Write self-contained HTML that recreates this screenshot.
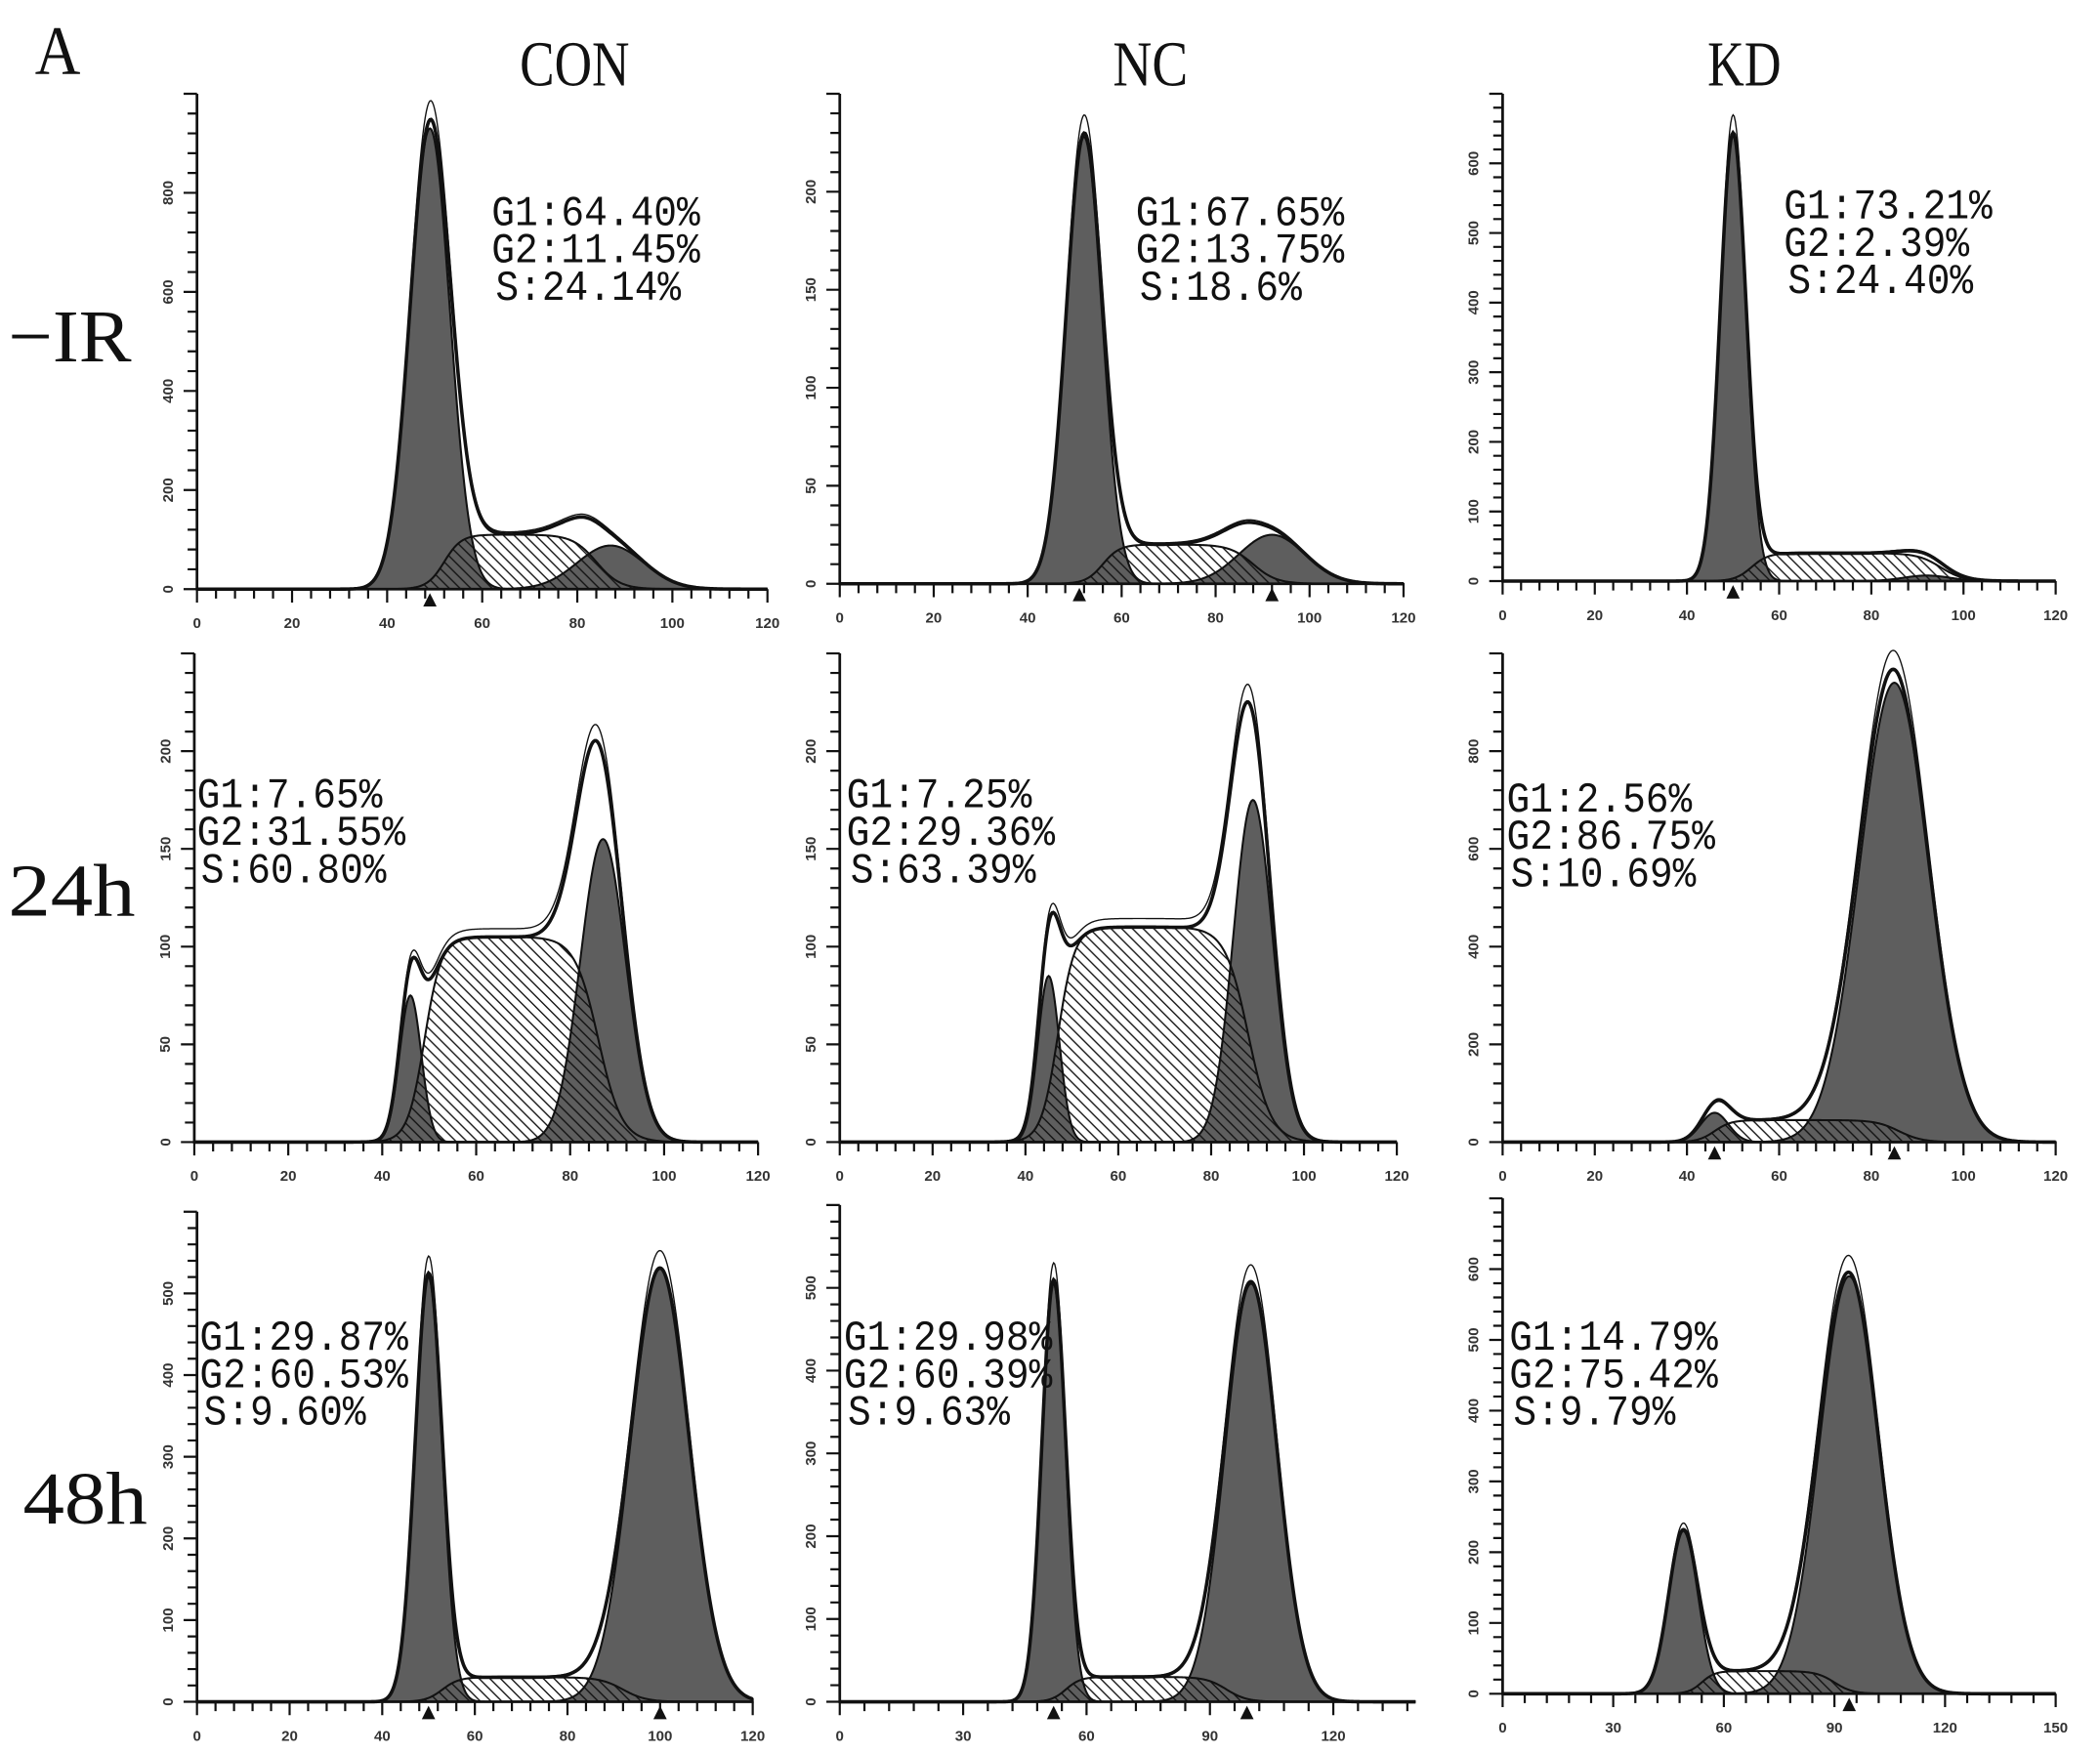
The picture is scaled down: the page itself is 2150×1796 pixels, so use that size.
<!DOCTYPE html>
<html><head><meta charset="utf-8">
<style>
html,body{margin:0;padding:0;background:#fff;}
svg{display:block;}
.big{font-family:"Liberation Serif","Noto Serif CJK SC",serif;fill:#111;}
.tick{font-family:"Liberation Sans",sans-serif;font-size:11px;fill:#333;font-weight:bold;}
.stat{font-family:"Liberation Mono","Noto Sans CJK SC",monospace;font-size:32px;fill:#111;}
</style></head>
<body>
<svg id="fig" width="2150" height="1796" viewBox="0 0 1568 1310" xmlns="http://www.w3.org/2000/svg">
<defs>
<pattern id="hatch" patternUnits="userSpaceOnUse" width="8" height="8">
<path d="M-2,-2 L10,10 M-2,6 L2,10 M6,-2 L10,2" stroke="#111" stroke-width="1"/>
</pattern>
</defs>
<text class="big" x="26" y="55" font-size="52" textLength="34" lengthAdjust="spacingAndGlyphs">A</text>
<text class="big" x="388" y="64" font-size="48" textLength="82" lengthAdjust="spacingAndGlyphs">CON</text>
<text class="big" x="831" y="64" font-size="48" textLength="56" lengthAdjust="spacingAndGlyphs">NC</text>
<text class="big" x="1275" y="64" font-size="48" textLength="55" lengthAdjust="spacingAndGlyphs">KD</text>
<text class="big" x="6" y="270" font-size="56" textLength="92" lengthAdjust="spacingAndGlyphs">−IR</text>
<text class="big" x="6" y="684" font-size="56" textLength="95" lengthAdjust="spacingAndGlyphs">24h</text>
<text class="big" x="17" y="1138" font-size="56" textLength="93" lengthAdjust="spacingAndGlyphs">48h</text>
</svg>
<script>
// ---- data ----
const panelNames = ['con-ir','nc-ir','kd-ir','con-24h','nc-24h','kd-24h','con-48h','nc-48h','kd-48h'];
const g1Center = [49,52,50, 46,45,46, 50,52,49];
const g1Peak   = [930,228,640, 75,85,60, 520,505,230];
const g1Sd     = [4.2,3.8,2.8, 2.3,2.3,3, 2.9,2.9,4];
const g2Center = [87,92,92, 87,89,85, 100,100,94];
const g2Peak   = [88,25,8, 155,175,940, 530,505,590];
const g2Sd     = [7,7,5, 4.8,4.2,7.5, 6.3,6.3,8];
const sLevel   = [110,20,40, 105,110,45, 30,30,32];
const sStart   = [52,56,54, 49,47,46, 53,55,54];
const sEnd     = [84,88,95, 86,88,86, 92,94,90];
const xMaxes   = [120,120,120, 120,120,120, 120,140,150];
const xSteps   = [20,20,20, 20,20,20, 20,30,30];
const yMaxes   = [1000,250,700, 250,250,1000, 600,600,700];
const ySteps   = [200,50,100, 50,50,200, 100,100,100];
const statG1   = ['G1:64.40%','G1:67.65%','G1:73.21%','G1:7.65%','G1:7.25%','G1:2.56%','G1:29.87%','G1:29.98%','G1:14.79%'];
const statG2   = ['G2:11.45%','G2:13.75%','G2:2.39%','G2:31.55%','G2:29.36%','G2:86.75%','G2:60.53%','G2:60.39%','G2:75.42%'];
const statS    = ['S:24.14%','S:18.6%','S:24.40%','S:60.80%','S:63.39%','S:10.69%','S:9.60%','S:9.63%','S:9.79%'];
const markers  = [[49],[51,92],[50],[],[],[46,85],[50,100],[52,99],[94]];

// ---- layout (pixels, not data) ----
const axLeft  = [147,627,1122, 145,627,1122, 147,627,1122];
const axRight = [573,1048,1535, 566,1043,1535, 562,1057,1535];
const axBase  = [440,436,434, 853,853,853, 1271,1271,1265];
const axTop   = [70,70,70, 488,488,488, 905,900,895];
const statX   = [367,848,1332, 147,632,1125, 149,630,1127];
const statY   = [168,168,163, 603,603,606, 1008,1008,1008];

const NS='http://www.w3.org/2000/svg';
const svg=document.getElementById('fig');
function mk(tag,attrs,parent){const e=document.createElementNS(NS,tag);for(const k in attrs)e.setAttribute(k,attrs[k]);(parent||svg).appendChild(e);return e;}
function sig(z){return 1/(1+Math.exp(-z));}

for(let i=0;i<9;i++){
  const g=mk('g',{});
  
  
  const X=v=>axLeft[i]+(axRight[i]-axLeft[i])*v/xMaxes[i];
  const Y=v=>axBase[i]-(axBase[i]-axTop[i])*v/yMaxes[i];
  const g1=x=>g1Peak[i]*Math.exp(-Math.pow(x-g1Center[i],2)/(2*g1Sd[i]*g1Sd[i]));
  const g2=x=>g2Peak[i]*Math.exp(-Math.pow(x-g2Center[i],2)/(2*g2Sd[i]*g2Sd[i]));
  const s=x=>sLevel[i]*sig((x-sStart[i])/1.8)*sig((sEnd[i]-x)/2.5);
  const xs=[];for(let x=0;x<=xMaxes[i];x+=0.25)xs.push(x);
  const areaPath=f=>{let d='M'+X(0)+','+Y(0);xs.forEach(x=>{d+=' L'+X(x).toFixed(2)+','+Y(f(x)).toFixed(2);});return d+' L'+X(xMaxes[i])+','+Y(0)+'Z';};
  const linePath=f=>{let d='';xs.forEach((x,k)=>{d+=(k?' L':'M')+X(x).toFixed(2)+','+Y(f(x)).toFixed(2);});return d;};
  const p1=mk('path',{d:areaPath(g1),fill:'#5e5e5e',stroke:'#111','stroke-width':1.5},g);
  
  
  const p2=mk('path',{d:areaPath(g2),fill:'#5e5e5e',stroke:'#111','stroke-width':1.5},g);
  
  
  const ps=mk('path',{d:areaPath(s),fill:'url(#hatch)',stroke:'#111','stroke-width':1.5},g);
  
  
  const tot=x=>g1(x)+g2(x)+s(x);
  const pt=mk('path',{d:linePath(x=>tot(x)*1.04),fill:'none',stroke:'#111','stroke-width':1},g);
  
  
  const pe=mk('path',{d:linePath(tot),fill:'none',stroke:'#111','stroke-width':2.6},g);
  
  
  const ax=mk('path',{d:'M'+axLeft[i]+','+axTop[i]+' L'+axLeft[i]+','+axBase[i]+' L'+axRight[i]+','+axBase[i],fill:'none',stroke:'#111','stroke-width':2},g);
  
  
  let td='';
  const xm=xSteps[i]/5;
  for(let v=0;v<=xMaxes[i]+0.01;v+=xm){const big=Math.abs(v/xSteps[i]-Math.round(v/xSteps[i]))<1e-6;td+=' M'+X(v)+','+axBase[i]+' L'+X(v)+','+(axBase[i]+(big?10:7));}
  const ym=ySteps[i]/5;
  for(let v=0;v<=yMaxes[i]+0.01;v+=ym){const big=Math.abs(v/ySteps[i]-Math.round(v/ySteps[i]))<1e-6;td+=' M'+axLeft[i]+','+Y(v)+' L'+(axLeft[i]-(big?10:7))+','+Y(v);}
  const tk=mk('path',{d:td,stroke:'#111','stroke-width':1.6,fill:'none'},g);
  
  
  for(let v=0;v<=xMaxes[i];v+=xSteps[i]){
    const t=mk('text',{x:X(v),y:axBase[i]+29,'text-anchor':'middle',class:'tick'},g);t.textContent=v;
    
    
  }
  for(let v=0;v<yMaxes[i];v+=ySteps[i]){
    const cx=axLeft[i]-22,cy=Y(v);
    const t=mk('text',{x:cx,y:cy+4,'text-anchor':'middle',class:'tick',transform:'rotate(-90 '+cx+' '+cy+')'},g);t.textContent=v;
    
    
  }
  markers[i].forEach(m=>{
    const tr=mk('path',{d:'M'+X(m)+','+(axBase[i]+3)+' l-5,10 l10,0 z',fill:'#111'},g);
    
    
  });
  const lines=[statG1[i],statG2[i],statS[i]];
  lines.forEach((txt,k)=>{
    const w=txt.length*17.3;
    const t=mk('text',{x:statX[i]+(k==2?3:0),y:statY[i]+k*28,class:'stat',textLength:w,lengthAdjust:'spacingAndGlyphs'},g);
    t.textContent=txt;
    
    
  });
}
</script>
</body></html>
